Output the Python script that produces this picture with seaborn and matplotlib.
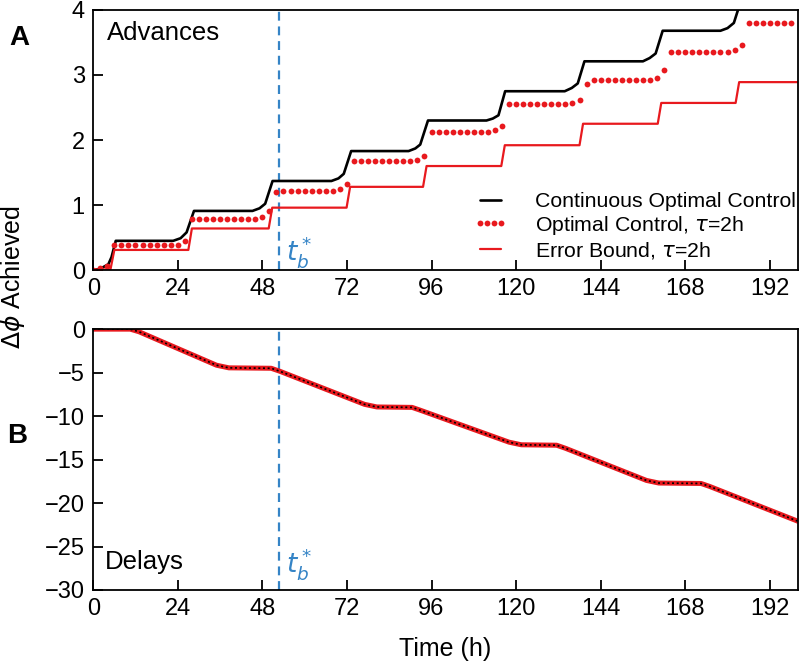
import numpy as np
import matplotlib
matplotlib.use("Agg")
import matplotlib.pyplot as plt
import seaborn as sns

# Panel A: phase advances
adv_cont_t = [0, 2, 4.3, 5.2, 6.4, 22.7, 24.8, 26.5, 28.6, 45.2, 47.2, 48.8, 50.9,
              67.6, 69.6, 71.1, 73.2, 89.5, 91.4, 92.8, 95.0, 111.6, 113.4, 115.0, 116.9,
              133.8, 135.8, 137.5, 139.4, 156.0, 157.9, 159.6, 161.6, 178.0, 180.0, 181.8,
              183.8, 200]
adv_cont = [0, 0.02, 0.09, 0.2, 0.45, 0.45, 0.49, 0.58, 0.91, 0.91, 0.95, 1.02, 1.37,
            1.37, 1.41, 1.48, 1.83, 1.83, 1.87, 1.93, 2.30, 2.30, 2.33, 2.38, 2.75,
            2.75, 2.80, 2.87, 3.21, 3.21, 3.26, 3.33, 3.68, 3.68, 3.72, 3.80, 4.14, 4.14]

adv_opt_t = np.arange(0, 200, 2)
adv_opt = [0.00, 0.03, 0.06, 0.38,
           0.38, 0.38, 0.38, 0.38, 0.38, 0.38, 0.38, 0.38,
           0.39, 0.45, 0.78,
           0.78, 0.78, 0.78, 0.78, 0.78, 0.78, 0.78, 0.78, 0.78,
           0.82, 0.91, 1.20,
           1.21, 1.21, 1.21, 1.21, 1.21, 1.21, 1.21, 1.21,
           1.24, 1.32, 1.67,
           1.67, 1.67, 1.67, 1.67, 1.67, 1.67, 1.67, 1.67,
           1.70, 1.76, 2.13,
           2.13, 2.13, 2.13, 2.13, 2.13, 2.13, 2.13, 2.13,
           2.16, 2.21, 2.55,
           2.55, 2.55, 2.55, 2.55, 2.55, 2.55, 2.55, 2.55,
           2.57, 2.62, 2.86,
           2.92, 2.92, 2.92, 2.92, 2.92, 2.92, 2.92, 2.92,
           2.92, 2.96, 3.08, 3.35,
           3.35, 3.35, 3.35, 3.35, 3.35, 3.35, 3.35,
           3.35, 3.38, 3.46, 3.80,
           3.80, 3.80, 3.80, 3.80, 3.80, 3.80]

adv_bound_t = [0, 4.9, 6.0, 27.0, 28.0, 49.8, 50.8, 71.9, 72.9, 93.6, 94.6, 115.8, 116.8,
               138.0, 139.0, 160.2, 161.2, 182.3, 183.3, 200]
adv_bound = [0.01, 0.01, 0.31, 0.31, 0.64, 0.64, 0.96, 0.96, 1.28, 1.28, 1.60, 1.60, 1.92,
             1.92, 2.25, 2.25, 2.57, 2.57, 2.89, 2.89]

# Panel B: phase delays (all three curves overlap)
delay_t = [0, 10.5, 13, 35, 38.5, 50.5, 53, 77, 80.5, 90.5, 93, 118, 121.5, 131.5,
           134, 157, 160.5, 172.5, 175, 200]
delay_phase = [0, 0, -0.3, -4.15, -4.45, -4.5, -4.85, -8.65, -8.95, -9.0, -9.35, -13.0,
               -13.3, -13.35, -13.7, -17.4, -17.7, -17.75, -18.1, -22.1]

t_b = 52.8
x_ticks = [0, 24, 48, 72, 96, 120, 144, 168, 192]

red = '#e8191e'
blue = '#3584c6'

sns.set_style('ticks')
plt.rcParams['font.family'] = ['Liberation Sans', 'DejaVu Sans']
plt.rcParams.update({'axes.linewidth': 1.3, 'text.color': 'black',
                     'axes.edgecolor': 'black', 'axes.labelcolor': 'black',
                     'xtick.color': 'black', 'ytick.color': 'black'})

fig = plt.figure(figsize=(8, 6.62), dpi=100)
ax1 = fig.add_axes([0.1165, 0.592, 0.881, 0.393])
ax2 = fig.add_axes([0.1165, 0.1088, 0.881, 0.394])

sns.lineplot(x=adv_cont_t, y=adv_cont, ax=ax1, color='black', lw=1.9,
             sort=False, estimator=None, label='Continuous Optimal Control')
sns.lineplot(x=adv_opt_t, y=adv_opt, ax=ax1, color=red, linestyle='', marker='o',
             markersize=4.2, markeredgewidth=0, sort=False, estimator=None,
             label=r'Optimal Control, $\tau$=2h')
sns.lineplot(x=adv_bound_t, y=adv_bound, ax=ax1, color=red, lw=1.6,
             sort=False, estimator=None, label=r'Error Bound, $\tau$=2h')

sns.lineplot(x=delay_t, y=delay_phase, ax=ax2, color=red, lw=3.6,
             sort=False, estimator=None)
sns.lineplot(x=delay_t, y=delay_phase, ax=ax2, color='black', lw=1.2,
             linestyle=(0, (1.2, 1.6)), sort=False, estimator=None)

for ax in (ax1, ax2):
    ax.axvline(t_b, color=blue, lw=1.6, linestyle=(0, (4, 2.6)), zorder=1)
    ax.set_xlim(0, 200)
    ax.set_xticks(x_ticks)
    ax.tick_params(direction='in', length=7, width=1.3, labelsize=17, pad=6,
                   top=False, right=False)
    ax.set_xlabel('')
    ax.set_ylabel('')

ax1.set_ylim(0, 4)
ax1.set_yticks([0, 1, 2, 3, 4])
ax2.set_ylim(-30, 0)
ax2.set_yticks([0, -5, -10, -15, -20, -25, -30])

ax1.text(3.8, 3.65, 'Advances', fontsize=18.5, va='center')
ax2.text(3.3, -26.8, 'Delays', fontsize=18.5, va='center')
ax1.text(54.6, 0.28, r'$t^*_b$', color=blue, fontsize=19, va='center')
ax2.text(54.6, -27.0, r'$t^*_b$', color=blue, fontsize=19, va='center')

ax1.legend(loc='lower right', bbox_to_anchor=(1.003, 0.02), frameon=False,
           fontsize=15.3, numpoints=4, handlelength=1.6, handletextpad=1.3,
           labelspacing=0.13, borderpad=0.2, borderaxespad=0)

ax2.set_xlabel('Time (h)', fontsize=18, labelpad=12)
fig.text(0.016, 0.582, r'$\Delta\phi$ Achieved', rotation=90, fontsize=18,
         va='center', ha='center')
fig.text(0.024, 0.943, 'A', fontsize=20, weight='bold', ha='center', va='center')
fig.text(0.022, 0.341, 'B', fontsize=20, weight='bold', ha='center', va='center')

fig.savefig('out.png', dpi=100)
